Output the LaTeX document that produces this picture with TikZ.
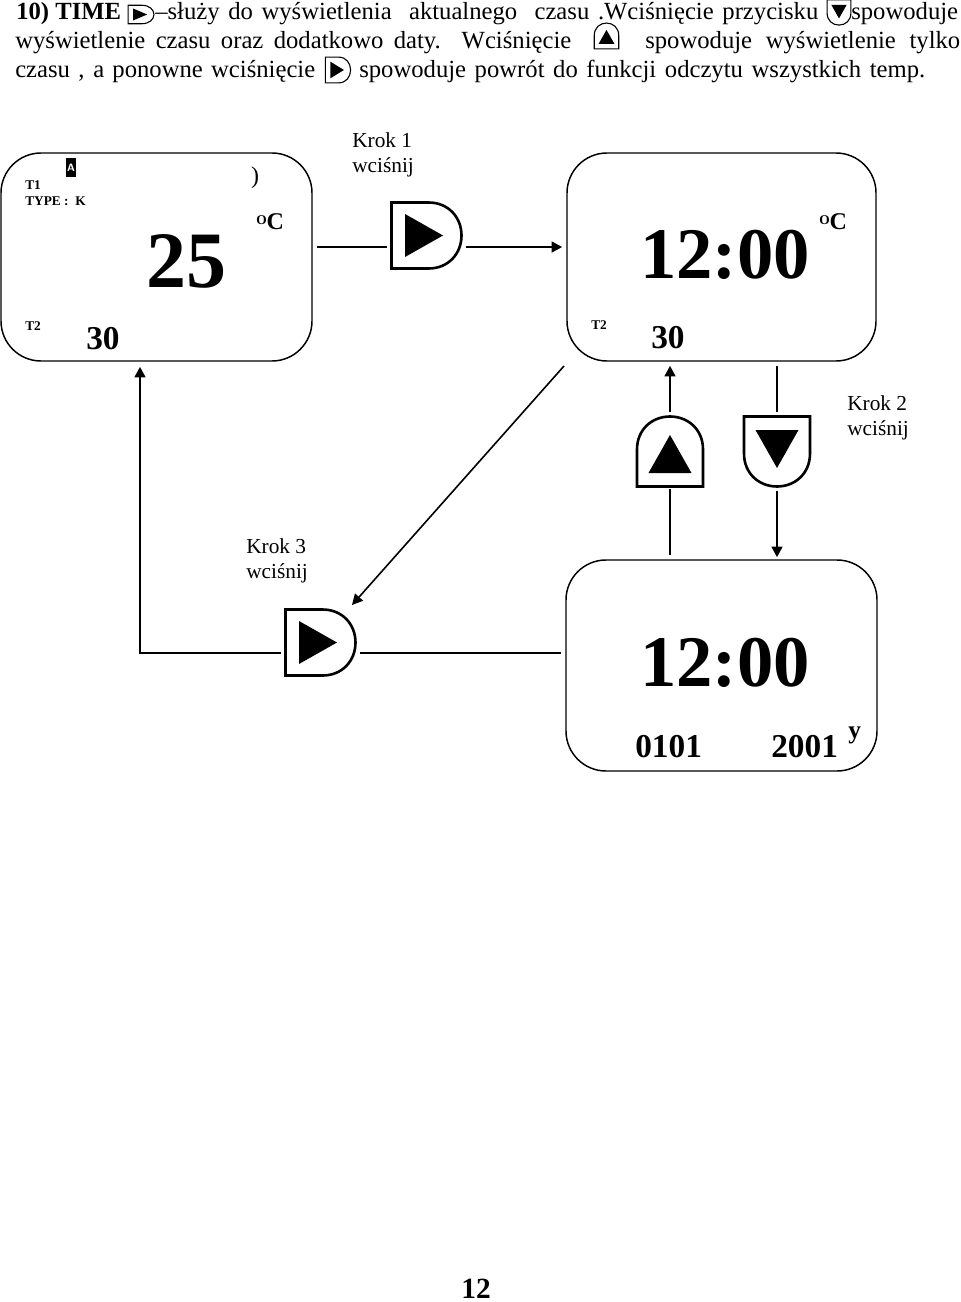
\documentclass[tikz,border=0pt]{standalone}
\usepackage{fontspec}
\setmainfont{Liberation Serif}
\usepackage{tikz}
\usetikzlibrary{positioning,arrows.meta}
\newlength{\pxu}
\setlength{\pxu}{0.75pt}
\newcommand{\fsz}[1]{\fontsize{#1}{#1}\selectfont}
\newcommand{\degC}{\raisebox{3.5pt}{\fsz{10}O}C}

\begin{document}
\begin{tikzpicture}[
    x=\pxu, y=-\pxu,
    >={Stealth[length=8pt,width=8pt,inset=0pt]},
    lcd/.style={draw, line width=1.1pt, rounded corners=30pt, inner sep=0pt},
    wire/.style={line width=1.8pt, shorten <=4\pxu, shorten >=4\pxu},
    thinwire/.style={line width=1.2pt},
    btnline/.style={line width=2.6\pxu},
    bodytext/.style={anchor=base west, inner sep=0pt, font=\fsz{18.5}},
    steptext/.style={anchor=north west, inner sep=0pt, align=left, font=\fontsize{16}{19}\selectfont},
    small/.style={anchor=base west, inner sep=0pt, font=\fsz{10}\bfseries},
    digits/.style={anchor=base west, inner sep=0pt, font=\fsz{25}\bfseries},
    bigdigits/.style={anchor=base west, inner sep=0pt, font=\fsz{54.5}\bfseries},
    unit/.style={anchor=base west, inner sep=0pt, font=\fsz{18}\bfseries},
    pics/btnright/.style={code={
        \node[inner sep=0pt, minimum size=70\pxu] (-box) {};
        \draw[btnline] (-35,-33) -- (2,-33) .. controls (22,-33) and (35,-18) .. (35,0)
            .. controls (35,18) and (22,33) .. (2,33) -- (-35,33) -- cycle;
        \fill (-21.5,-21.5) -- (16.5,0) -- (-21.5,21.5) -- cycle;
    }}
]
    \useasboundingbox (0,0) rectangle (960,1302);

    % text above the picture
    \node[bodytext, font=\fsz{18.5}\bfseries] (t1a) at (16,20) {10) TIME};
    \node[bodytext] (t1b) at (155,20) {\makebox[663\pxu][s]{–służy do wyświetlenia\ \ aktualnego\ \ czasu .Wciśnięcie przycisku}};
    \node[bodytext] (t1c) at (851,20) {spowoduje};
    \node[bodytext] (t2a) at (15,49) {\makebox[556\pxu][s]{wyświetlenie czasu oraz dodatkowo daty. Wciśnięcie}};
    \node[bodytext] (t2b) at (645,49) {\makebox[315\pxu][s]{spowoduje wyświetlenie tylko}};
    \node[bodytext] (t3a) at (15,78) {\makebox[300\pxu][s]{czasu , a ponowne wciśnięcie}};
    \node[bodytext] (t3b) at (359,78) {\makebox[566\pxu][s]{spowoduje powrót do funkcji odczytu wszystkich temp.}};

    % small keys in the text
    \pic[xscale=.37, yscale=.28, btnline/.style={line width=1.1\pxu}] (keyA) at (141,14.5) {btnright};
    \pic[rotate=-90, scale=.36, btnline/.style={line width=1.1\pxu}] (keyB) at (839,12.5) {btnright};
    \pic[rotate=90, scale=.37, btnline/.style={line width=1.1\pxu}] (keyC) at (606.5,36) {btnright};
    \pic[xscale=.36, yscale=.39, btnline/.style={line width=1.1\pxu}] (keyD) at (338,70) {btnright};

    % displays
    \node[lcd, minimum width=311\pxu, minimum height=208\pxu] (lcdA) at (156.5,257) {};
    \node[lcd, minimum width=309\pxu, minimum height=208\pxu] (lcdB) at (721.5,257) {};
    \node[lcd, minimum width=311\pxu, minimum height=211\pxu] (lcdC) at (721.5,665.5) {};

    \node[fill=black, text=white, inner sep=0pt, minimum width=10\pxu, minimum height=19\pxu,
        font=\sffamily\bfseries\fsz{8}] (flagA) at (71,167.5) {A};
    \node[inner sep=0pt, font=\fsz{18}] (markA) at (255,178) {)};
    \node[small] (tA) at (25,190) {T1};
    \node[small] (typeA) at (25,205) {TYPE :\ \ K};
    \node[small] (tB) at (25,330) {T2};
    \node[bigdigits, font=\fsz{60}\bfseries] (tempA) at (146,287) {25};
    \node[digits] (lowA) at (86,349) {30};
    \node[unit] (unitA) at (256,229) {\degC};

    \node[small] (tC) at (591,329) {T2};
    \node[bigdigits] (timeB) at (640,278) {12:00};
    \node[digits] (lowB) at (651,348) {30};
    \node[unit] (unitB) at (819,229) {\degC};

    \node[bigdigits] (timeC) at (640,686) {12:00};
    \node[digits] (dayC) at (635,757) {0101};
    \node[digits] (yearC) at (771,757) {2001};
    \node[anchor=base west, inner sep=0pt, font=\fsz{19}\bfseries] (yC) at (848,738) {y};

    % keys and what they say
    \pic (btnA) at (426.5,235.5) {btnright};
    \pic[rotate=90] (btnB) at (670,451.5) {btnright};
    \pic[rotate=-90] (btnC) at (777,451.5) {btnright};
    \pic (btnD) at (320.5,642.5) {btnright};

    \node[steptext] (stepA) at (352,132) {Krok 1\\wciśnij};
    \node[steptext] (stepB) at (847,395) {Krok 2\\wciśnij};
    \node[steptext] (stepC) at (246,538) {Krok 3\\wciśnij};

    \coordinate (railA) at (btnA-box.west |- 0,247);
    \coordinate (railD) at (btnD-box.west |- 0,653);
    \coordinate (corner) at (140,653);
    \coordinate (diagStart) at (564,366);
    \coordinate (diagEnd) at (352,605);

    \draw[wire] (lcdA.east |- railA) -- (railA);
    \draw[wire,->] (btnA-box.east |- railA) -- (lcdB.west |- railA);
    \draw[wire,->] (btnB-box.north) -- (lcdB.south -| btnB-box.north);
    \draw[wire, shorten >=2\pxu] (lcdC.north -| btnB-box.south) -- (btnB-box.south);
    \draw[wire] (lcdB.south -| btnC-box.north) -- (btnC-box.north);
    \draw[wire,->, shorten >=2\pxu] (btnC-box.south) -- (lcdC.north -| btnC-box.south);
    \draw[wire] (lcdC.west |- railD) -- (btnD-box.east |- railD);
    \draw[wire,->, shorten >=5\pxu] (railD) -- (corner) -- (lcdA.south -| corner);
    \draw[thinwire,->] (diagStart) -- (diagEnd);

    \node[anchor=base, inner sep=0pt, font=\fsz{22}\bfseries] (page) at (476,1298) {12};
\end{tikzpicture}
\end{document}
